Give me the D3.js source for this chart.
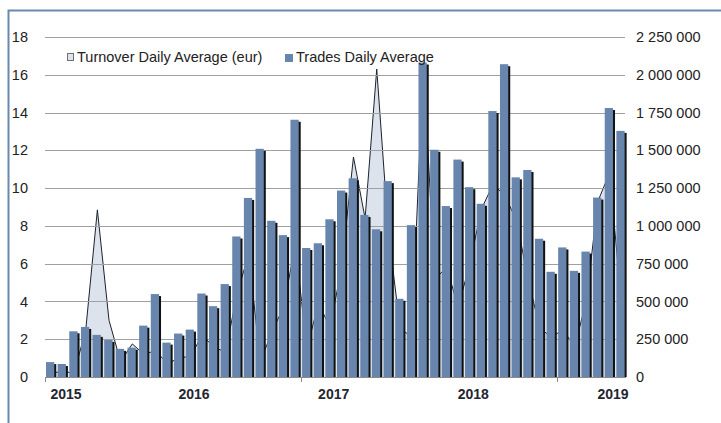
<!DOCTYPE html>
<html lang="en">
<head>
<meta charset="UTF-8">
<script src="https://d3js.org/d3.v7.min.js"></script>
<style>
  body { margin: 0; background: #fff; }
  text { font-family: 'Liberation Sans', Arial, sans-serif; }
</style>
<title>Trades / Turnover</title>
</head>
<body>
<div class="canvas"></div>
<script>
const months = [
  'Jan-15', 'Feb-15', 'Mar-15', 'Apr-15', 'May-15', 'Jun-15', 'Jul-15', 'Aug-15', 'Sep-15', 'Oct-15', 'Nov-15', 'Dec-15',
  'Jan-16', 'Feb-16', 'Mar-16', 'Apr-16', 'May-16', 'Jun-16', 'Jul-16', 'Aug-16', 'Sep-16', 'Oct-16', 'Nov-16', 'Dec-16',
  'Jan-17', 'Feb-17', 'Mar-17', 'Apr-17', 'May-17', 'Jun-17', 'Jul-17', 'Aug-17', 'Sep-17', 'Oct-17', 'Nov-17', 'Dec-17',
  'Jan-18', 'Feb-18', 'Mar-18', 'Apr-18', 'May-18', 'Jun-18', 'Jul-18', 'Aug-18', 'Sep-18', 'Oct-18', 'Nov-18', 'Dec-18',
  'Jan-19', 'Feb-19'
]

// trades daily average (left axis)
const trades = [
  0.79, 0.69, 2.42, 2.65, 2.23, 1.96, 1.49, 1.55, 2.72, 4.39, 1.82, 2.30,
  2.51, 4.42, 3.75, 4.92, 7.44, 9.48, 12.08, 8.27, 7.51, 13.62, 6.83, 7.08,
  8.35, 9.87, 10.52, 8.58, 7.82, 10.37, 4.14, 8.04, 16.65, 12.03, 9.05, 11.51,
  10.05, 9.17, 14.08, 16.56, 10.57, 10.96, 7.32, 5.57, 6.86, 5.62, 6.64, 9.50,
  14.24, 13.03
]

// turnover daily average in eur (right axis)
const turnover = [
  25000, 38000, 25000, 312000, 1106000, 375000, 100000, 219000, 150000, 175000, 88000, 125000,
  138000, 275000, 200000, 163000, 550000, 813000, 100000, 300000, 463000, 875000, 188000, 488000,
  325000, 738000, 1456000, 1050000, 2038000, 963000, 325000, 263000, 2050000, 650000, 725000, 463000,
  750000, 1113000, 1275000, 1200000, 1038000, 650000, 325000, 263000, 313000, 200000, 500000, 1163000,
  1350000, 513000
]

const leftTicks = [0, 2, 4, 6, 8, 10, 12, 14, 16, 18]
const rightTicks = [0, 250000, 500000, 750000, 1000000, 1250000, 1500000, 1750000, 2000000, 2250000]
const yearMonths = ['Jan-15', 'Jan-16', 'Jan-17', 'Jan-18', 'Jan-19']
const yearLabels = ['2015', '2016', '2017', '2018', '2019']
const tickMonths = ['Jan-15', 'Nov-16', 'Sep-18']
const seriesNames = ['Turnover Daily Average (eur)', 'Trades Daily Average']

const areaWidth = 721
const areaHeight = 423
const [plotL, plotR, plotT, plotB] = [45, 627, 37, 377]
const barColor = '#6886ad'
const areaColor = '#dce3ec'
const fontSize = '14.5px'

const svg = d3.select('.canvas')
  .append('svg')
  .attr('width', areaWidth)
  .attr('height', areaHeight)

// outer frame (only top and left edges fall inside the picture)
svg.append('rect')
  .attr('x', 8.5).attr('y', 10.5)
  .attr('width', 900).attr('height', 600)
  .attr('fill', 'none')
  .attr('stroke', '#6a89b0')
  .attr('stroke-width', 2)

const x = d3.scaleBand()
  .domain(months)
  .range([plotL, plotR])
  .padding(0)

const yL = d3.scaleLinear().domain([0, 18]).range([plotB, plotT])
const yR = d3.scaleLinear().domain([0, 2250000]).range([plotB, plotT])

const step = x.step()
const bw = step * 0.71

// turnover area, behind everything
const area = d3.area()
  .x((d, i) => x(months[i]) + step / 2)
  .y0(yR(0))
  .y1(d => yR(d))

const line = d3.line()
  .x((d, i) => x(months[i]) + step / 2)
  .y(d => yR(d))

svg.append('path')
  .attr('d', area(turnover))
  .attr('fill', areaColor)

svg.append('path')
  .attr('d', line(turnover))
  .attr('fill', 'none')
  .attr('stroke', '#1b2230')
  .attr('stroke-width', 1)

// gridlines
svg.append('g')
  .selectAll('line')
  .data(leftTicks.filter(d => d > 0))
  .enter()
  .append('line')
  .attr('x1', plotL)
  .attr('x2', plotR - 2)
  .attr('y1', d => Math.round(yL(d)) + 0.5)
  .attr('y2', d => Math.round(yL(d)) + 0.5)
  .attr('stroke', '#a0a0a0')

// bars with a dark drop shadow on the right
const bars = svg.append('g')
  .selectAll('g')
  .data(trades)
  .enter()
  .append('g')

bars.append('rect')
  .attr('x', (d, i) => x(months[i]) + 3)
  .attr('y', d => yL(d) + 2)
  .attr('width', bw)
  .attr('height', d => Math.max(0, yL(0) - yL(d) - 2))
  .attr('fill', '#111')

bars.append('rect')
  .attr('x', (d, i) => x(months[i]) + 1)
  .attr('y', d => yL(d))
  .attr('width', bw)
  .attr('height', d => yL(0) - yL(d))
  .attr('fill', barColor)

// baseline and category tick marks
svg.append('line')
  .attr('x1', plotL).attr('x2', plotR - 1)
  .attr('y1', plotB + 0.5).attr('y2', plotB + 0.5)
  .attr('stroke', '#8a8a8a')

svg.append('g')
  .selectAll('line')
  .data(tickMonths)
  .enter()
  .append('line')
  .attr('x1', d => Math.round(x(d)) + 0.5)
  .attr('x2', d => Math.round(x(d)) + 0.5)
  .attr('y1', plotB)
  .attr('y2', plotB + 5)
  .attr('stroke', '#8a8a8a')

// left axis
const yAxisL = d3.axisLeft(yL)
  .tickValues(leftTicks)
  .tickSize(0)
  .tickPadding(17)
const yAxisLG = svg.append('g')
  .attr('transform', `translate(${plotL},0)`)
  .call(yAxisL)
yAxisLG.select('.domain').remove()
yAxisLG.selectAll('text')
  .style('font-size', fontSize)
  .style('font-family', "'Liberation Sans', Arial, sans-serif")
  .attr('fill', '#222')

// right axis
const fmt = d3.formatLocale({ decimal: ',', thousands: ' ', grouping: [3], currency: ['', ''] }).format(',d')
const yAxisR = d3.axisRight(yR)
  .tickValues(rightTicks)
  .tickSize(0)
  .tickPadding(9)
  .tickFormat(fmt)
const yAxisRG = svg.append('g')
  .attr('transform', `translate(${plotR},0)`)
  .call(yAxisR)
yAxisRG.select('.domain').remove()
yAxisRG.selectAll('text')
  .style('font-size', fontSize)
  .style('font-family', "'Liberation Sans', Arial, sans-serif")
  .attr('fill', '#222')

// year labels
svg.append('g')
  .selectAll('text')
  .data(yearMonths)
  .enter()
  .append('text')
  .attr('x', d => Math.max(x(d) + step * 0.8, plotL + 21))
  .attr('y', 399)
  .attr('text-anchor', 'middle')
  .style('font-size', '14px')
  .style('font-weight', 'bold')
  .attr('fill', '#1f2630')
  .text((d, i) => yearLabels[i])

// legend
const legend = svg.append('g')
legend.append('rect')
  .attr('x', 67.5).attr('y', 53.5)
  .attr('width', 6).attr('height', 7)
  .attr('fill', areaColor)
  .attr('stroke', '#6f6f6f')
legend.append('text')
  .attr('x', 77).attr('y', 62)
  .style('font-size', fontSize)
  .attr('fill', '#222')
  .text(seriesNames[0])
legend.append('rect')
  .attr('x', 285).attr('y', 54)
  .attr('width', 8).attr('height', 8)
  .attr('fill', barColor)
legend.append('text')
  .attr('x', 296).attr('y', 62)
  .style('font-size', fontSize)
  .attr('fill', '#222')
  .text(seriesNames[1])
</script>
</body>
</html>
